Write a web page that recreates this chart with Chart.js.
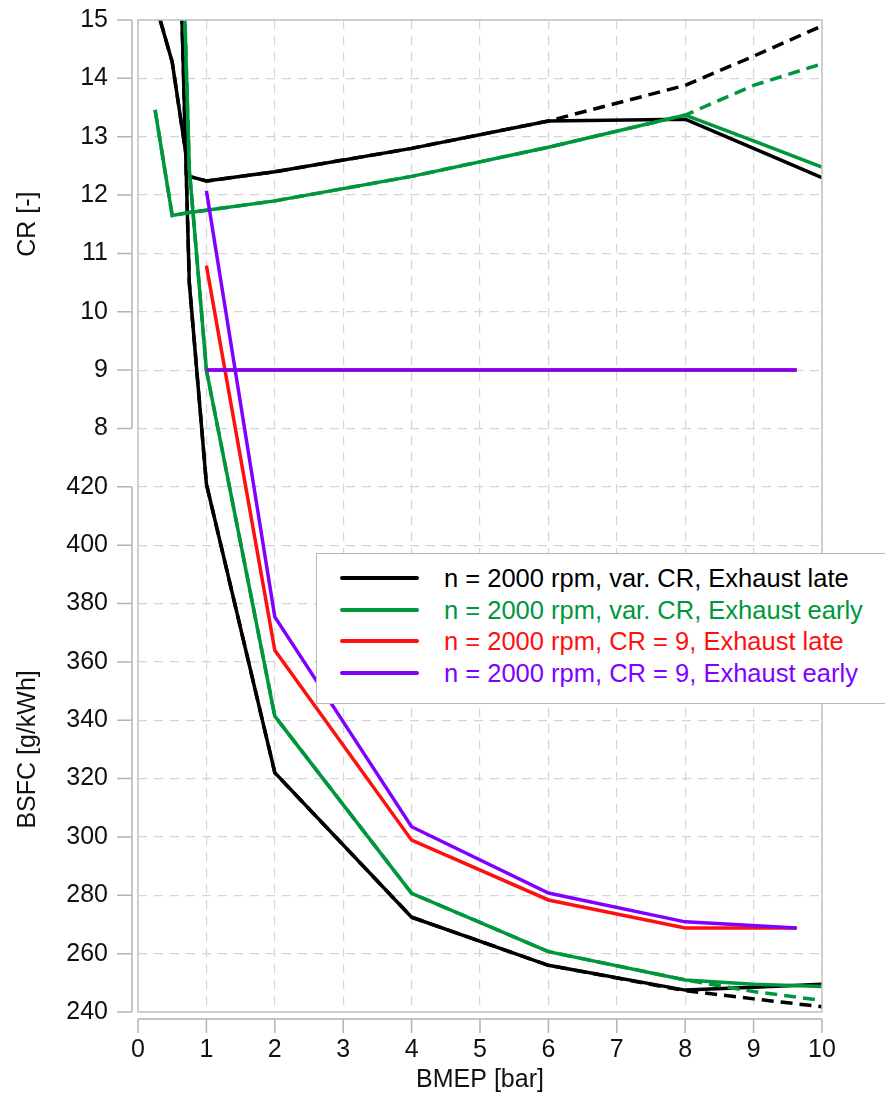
<!DOCTYPE html>
<html>
<head>
<meta charset="utf-8">
<title>CR and BSFC vs BMEP</title>
<script src="https://cdn.jsdelivr.net/npm/chart.js@4.4.1/dist/chart.umd.min.js"></script>
<style>
  html, body { margin: 0; padding: 0; background: #fff; overflow: hidden; }
  #wrap { position: relative; width: 885px; height: 1095px; }
  #legend {
    position: absolute; left: 316px; top: 553px; width: 600px; height: 151px;
    background: #fff; border: 1.5px solid #b8b8b8; box-sizing: border-box;
    font-family: "Liberation Sans", Arial, sans-serif; font-size: 25.5px;
  }
  #legend .row { position: absolute; left: 0; height: 30px; white-space: nowrap; }
  #legend .swatch { position: absolute; left: 23px; top: 13px; width: 79px; height: 4px; border-radius: 2px; }
  #legend .label { position: absolute; left: 127px; top: 0; line-height: 30px; }
</style>
</head>
<body>
<div id="wrap">
  <canvas id="mycanvas" width="885" height="1095"></canvas>
  <div id="legend"></div>
</div>
<script>
// BMEP [bar]
var bmep = [0.25, 0.5, 0.75, 1, 2, 4, 6, 8, 9, 10];
var bmepCR9 = [1, 2, 4, 6, 8, 9.63];

// CR [-]
var crLate = [15.3, 14.28, 12.32, 12.24, 12.4, 12.8, 13.27, 13.3, 12.8, 12.3];
var crLateDash = [15.3, 14.28, 12.32, 12.24, 12.4, 12.8, 13.27, 13.88, 14.38, 14.9];
var crEarly = [13.46, 11.65, 11.7, 11.74, 11.9, 12.32, 12.82, 13.37, 12.93, 12.48];
var crEarlyDash = [13.46, 11.65, 11.7, 11.74, 11.9, 12.32, 12.82, 13.37, 13.88, 14.25];
var crFixed = [9, 9, 9, 9, 9, 9];

// BSFC [g/kWh]
var bsfcLate = [null, 700, 490, 421, 322, 272.5, 256, 247.5, 248.5, 249.5];
var bsfcLateDash = [null, 700, 490, 421, 322, 272.5, 256, 247.3, 244.5, 241.8];
var bsfcEarly = [null, 728, 529, 460, 341.4, 280.7, 260.7, 251, 249.5, 248.7];
var bsfcEarlyDash = [null, 728, 529, 460, 341.4, 280.7, 260.7, 251, 247, 244];
var bsfcCR9Late = [495.8, 364, 298.9, 278.4, 268.8, 268.8];
var bsfcCR9Early = [521.5, 375.4, 303.5, 280.8, 270.9, 268.8];

var seriesNames = [
  'n = 2000 rpm, var. CR, Exhaust late',
  'n = 2000 rpm, var. CR, Exhaust early',
  'n = 2000 rpm, CR = 9, Exhaust late',
  'n = 2000 rpm, CR = 9, Exhaust early'
];
var seriesColors = ['#000000', '#00963c', '#ff1010', '#8000ff'];

// one shared y scale: 0..9 = BSFC 240..420, 10..17 = CR 8..15
function crY(c) { return c + 2; }
function bsfcY(b) { return (b - 240) / 20; }

function pts(xs, ys, f) {
  return xs.map(function(x, i) { return {x: x, y: ys[i] == null ? null : f(ys[i])}; });
}

function line(xs, ys, f, color, dashed, order) {
  return {
    data: pts(xs, ys, f),
    borderColor: color,
    borderWidth: 3.5,
    borderDash: dashed ? [12, 7] : [],
    pointRadius: 0,
    fill: false,
    tension: 0,
    clip: 0,
    order: order
  };
}

var datasets = [
  line(bmepCR9, crFixed, crY, seriesColors[3], false, 0),
  line(bmepCR9, bsfcCR9Early, bsfcY, seriesColors[3], false, 0),
  line(bmepCR9, crFixed, crY, seriesColors[2], false, 1),
  line(bmepCR9, bsfcCR9Late, bsfcY, seriesColors[2], false, 1),
  line(bmep, crEarly, crY, seriesColors[1], false, 2),
  line(bmep, crEarlyDash, crY, seriesColors[1], true, 2),
  line(bmep, bsfcEarly, bsfcY, seriesColors[1], false, 2),
  line(bmep, bsfcEarlyDash, bsfcY, seriesColors[1], true, 2),
  line(bmep, crLate, crY, seriesColors[0], false, 3),
  line(bmep, crLateDash, crY, seriesColors[0], true, 3),
  line(bmep, bsfcLate, bsfcY, seriesColors[0], false, 3),
  line(bmep, bsfcLateDash, bsfcY, seriesColors[0], true, 3)
];

var fontFamily = '"Liberation Sans", Arial, sans-serif';

// frame, split y axis lines, tick marks and axis titles
var axisDeco = {
  id: 'axisDeco',
  afterDraw: function(chart) {
    var ctx = chart.ctx, a = chart.chartArea, x = chart.scales.x, y = chart.scales.y;
    ctx.save();
    ctx.strokeStyle = '#c4c4c4';
    ctx.lineWidth = 1.5;
    ctx.strokeRect(a.left, a.top, a.right - a.left, a.bottom - a.top);

    ctx.strokeStyle = '#b4b4b4';
    var sx = a.left - 6;
    [[17, 10], [9, 0]].forEach(function(seg) {
      ctx.beginPath();
      ctx.moveTo(sx, y.getPixelForValue(seg[0]));
      ctx.lineTo(sx, y.getPixelForValue(seg[1]));
      for (var v = seg[1]; v <= seg[0]; v++) {
        var py = y.getPixelForValue(v);
        ctx.moveTo(sx - 15, py);
        ctx.lineTo(sx, py);
      }
      ctx.stroke();
    });
    var sy = a.bottom + 7;
    ctx.beginPath();
    ctx.moveTo(x.getPixelForValue(0), sy);
    ctx.lineTo(x.getPixelForValue(10), sy);
    for (var v = 0; v <= 10; v++) {
      var px = x.getPixelForValue(v);
      ctx.moveTo(px, sy);
      ctx.lineTo(px, sy + 14);
    }
    ctx.stroke();

    ctx.fillStyle = '#111';
    ctx.font = '25px ' + fontFamily;
    ctx.textAlign = 'center';
    ctx.textBaseline = 'middle';
    ctx.fillText('BMEP [bar]', (a.left + a.right) / 2, 1080);
    var titles = [['CR [-]', 17, 10], ['BSFC [g/kWh]', 9, 0]];
    titles.forEach(function(t) {
      var cy = (y.getPixelForValue(t[1]) + y.getPixelForValue(t[2])) / 2;
      ctx.save();
      ctx.translate(28, cy);
      ctx.rotate(-Math.PI / 2);
      ctx.fillText(t[0], 0, 0);
      ctx.restore();
    });
    ctx.restore();
  }
};

var ctx = document.getElementById('mycanvas');
var chart = new Chart(ctx, {
  type: 'line',
  data: {datasets: datasets},
  plugins: [axisDeco],
  options: {
    responsive: false,
    animation: false,
    layout: {padding: {top: 20, right: 63, left: 0, bottom: 0}},
    plugins: {legend: {display: false}, tooltip: {enabled: false}},
    scales: {
      x: {
        type: 'linear', min: 0, max: 10,
        ticks: {stepSize: 1, padding: 23, color: '#111', font: {family: fontFamily, size: 25}},
        grid: {color: '#d6d6d6', lineWidth: 1.2, drawTicks: false},
        border: {display: false, dash: [9, 7]},
        afterFit: function(s) { s.height = 83; s.paddingLeft = 0; s.paddingRight = 0; }
      },
      y: {
        type: 'linear', min: 0, max: 17,
        ticks: {
          stepSize: 1, padding: 30, color: '#111', font: {family: fontFamily, size: 25},
          callback: function(v) {
            if (v <= 9) return String(240 + 20 * v);
            if (v >= 10) return String(v - 2);
            return '';
          }
        },
        grid: {color: '#d6d6d6', lineWidth: 1.2, drawTicks: false},
        border: {display: false, dash: [9, 7]},
        afterFit: function(s) { s.width = 138; s.paddingTop = 0; s.paddingBottom = 0; }
      }
    }
  }
});

// legend built from the series names and colours
var legend = document.getElementById('legend');
seriesNames.forEach(function(name, i) {
  var row = document.createElement('div');
  row.className = 'row';
  row.style.top = (9 + i * 31.5) + 'px';
  row.innerHTML = '<div class="swatch" style="background:' + seriesColors[i] + '"></div>' +
    '<div class="label" style="color:' + seriesColors[i] + '">' + name + '</div>';
  legend.appendChild(row);
});
</script>
</body>
</html>
